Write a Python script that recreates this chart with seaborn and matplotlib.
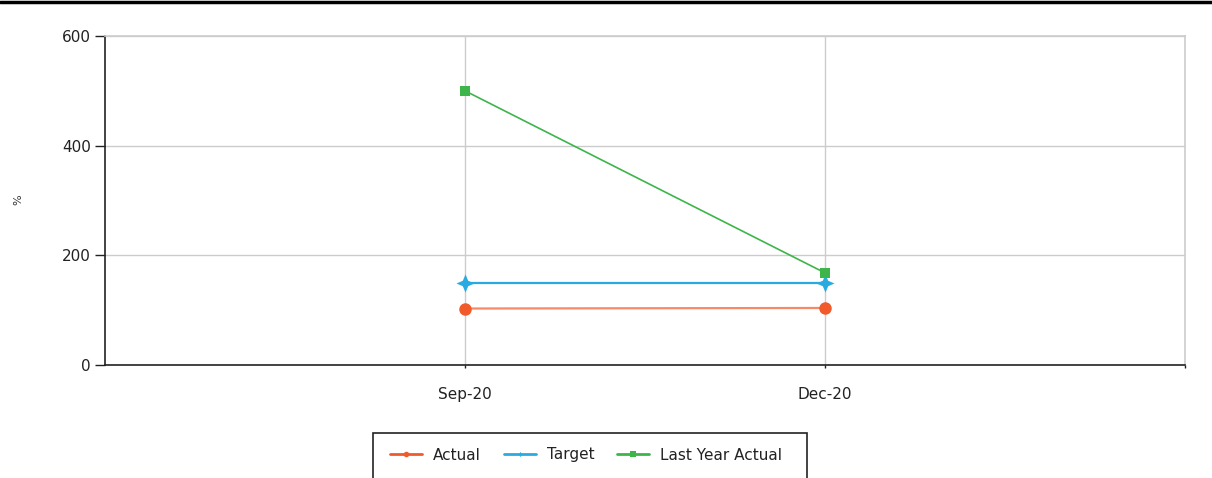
import matplotlib
matplotlib.use("Agg")
import matplotlib.pyplot as plt
import seaborn as sns
import numpy as np
import pandas as pd
from matplotlib.path import Path
from matplotlib.lines import Line2D
from matplotlib.patches import Rectangle

categories = ["Sep-20", "Dec-20"]
actual = [103, 104]
target = [150, 150]
last_year_actual = [500, 168]
y_ticks = [0, 200, 400, 600]
series_names = ["Actual", "Target", "Last Year Actual"]

sns.set_style("white")
plt.rcParams["font.family"] = ["DejaVu Sans"]

fig = plt.figure(figsize=(12.12, 4.78), dpi=100)
ax = fig.add_axes([105/1212, 1-365/478, (1185-105)/1212, (365-36)/478])

star = Path([(0, 1), (0.3, 0.3), (1, 0), (0.3, -0.3), (0, -1), (-0.3, -0.3),
             (-1, 0), (-0.3, 0.3), (0, 1)],
            [Path.MOVETO] + [Path.LINETO]*7 + [Path.CLOSEPOLY])

c_act, c_tgt, c_ly = "#F15A2B", "#29ABE2", "#3DB54A"

df = pd.DataFrame({"period": categories, "Actual": actual, "Target": target,
                   "Last Year Actual": last_year_actual})

sns.lineplot(data=df, x="period", y="Actual", ax=ax, color="#F58A66", lw=1.6,
             marker="o", markersize=9, markerfacecolor=c_act, markeredgewidth=0)
sns.lineplot(data=df, x="period", y="Target", ax=ax, color=c_tgt, lw=1.6,
             marker=star, markersize=13, markerfacecolor=c_tgt, markeredgewidth=0)
sns.lineplot(data=df, x="period", y="Last Year Actual", ax=ax, color=c_ly, lw=1.2,
             marker="s", markersize=7, markerfacecolor=c_ly, markeredgewidth=0)

ax.set_xlim(-1, 2)
ax.set_ylim(0, 600)
ax.set_yticks(y_ticks)
ax.set_xticks([0, 1])
ax.set_xticklabels(categories)
ax.set_xticks([2], minor=True)
ax.grid(True, which="major", color="#CCCCCC", lw=1.0)
ax.set_axisbelow(True)

for s in ["top", "right"]:
    ax.spines[s].set_color("#CCCCCC")
    ax.spines[s].set_linewidth(1.2)
for s in ["left", "bottom"]:
    ax.spines[s].set_color("#222222")
    ax.spines[s].set_linewidth(1.2)

ax.tick_params(axis="y", direction="out", length=7, width=1, color="#222222",
               labelsize=11, labelcolor="#222222", pad=3, left=True)
ax.tick_params(axis="x", which="both", direction="out", length=2.5, width=1, color="#222222",
               labelsize=11, labelcolor="#222222", pad=13, bottom=True)

ax.set_xlabel("")
ax.set_ylabel("%", fontsize=8, color="#333333")
ax.yaxis.set_label_coords(23/1212, 1-200/478, transform=fig.transFigure)

handles = [
    Line2D([], [], color=c_act, lw=2, marker="o", markersize=4, markeredgewidth=0),
    Line2D([], [], color=c_tgt, lw=2, marker=star, markersize=4, markeredgewidth=0),
    Line2D([], [], color=c_ly, lw=2, marker="s", markersize=4, markeredgewidth=0),
]
fig.legend(handles, series_names, loc="center", bbox_to_anchor=(586/1212, 1-455/478),
           ncol=3, frameon=False, fontsize=11, handlelength=2.1, handletextpad=0.7,
           columnspacing=1.5, labelcolor="#222222")

fig.patches.append(Rectangle((373/1212, -0.05), (807-373)/1212, 0.05 + 1-433/478,
                             transform=fig.transFigure, fill=False, edgecolor="#222222",
                             lw=1.2, clip_on=False))
fig.add_artist(Line2D([0, 1], [1-1.5/478, 1-1.5/478], transform=fig.transFigure,
                      color="black", lw=2.5))

fig.savefig("out.png", dpi=100)
